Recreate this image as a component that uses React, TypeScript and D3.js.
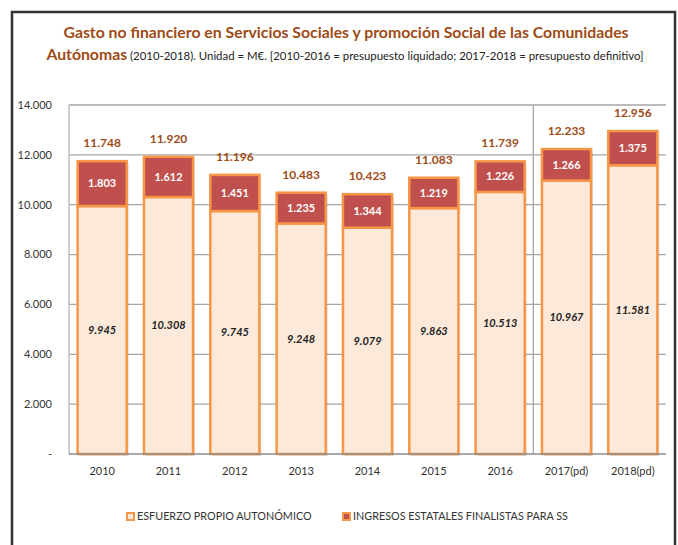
import React, { useEffect, useRef } from "react"
import * as d3 from "d3"

const WIDTH = 678
const HEIGHT = 545
const MARGIN = { top: 105, right: 12, bottom: 91, left: 69 }

const years = ["2010", "2011", "2012", "2013", "2014", "2015", "2016", "2017(pd)", "2018(pd)"]
const esfuerzoPropio = [9945, 10308, 9745, 9248, 9079, 9863, 10513, 10967, 11581]
const ingresosEstatales = [1803, 1612, 1451, 1235, 1344, 1219, 1226, 1266, 1375]
// totales tal como aparecen en el gráfico (redondeo de origen)
const totales = [11748, 11920, 11196, 10483, 10423, 11083, 11739, 12233, 12956]
const yTicks = [0, 2000, 4000, 6000, 8000, 10000, 12000, 14000]
const seriesNames = ["ESFUERZO PROPIO AUTONÓMICO", "INGRESOS ESTATALES FINALISTAS PARA SS"]

const FONT = "Lato, 'Open Sans', sans-serif"
const BROWN = "#9E4B16"
const ORANGE = "#F79646"
const LIGHT = "#FDE9D9"
const RED = "#C0504D"

const locale = d3.formatLocale({ decimal: ",", thousands: ".", grouping: [3], currency: ["", "€"] })
const fmt = locale.format(",")

const App: React.FC = () => {
    const svgRef = useRef<SVGSVGElement | null>(null)

    useEffect(() => {
        if (!svgRef.current) return
        const svg = d3.select(svgRef.current)
        svg.selectAll("*").remove()

        const innerWidth = WIDTH - MARGIN.left - MARGIN.right
        const innerHeight = HEIGHT - MARGIN.top - MARGIN.bottom

        const x = d3.scaleBand<string>().domain(years).range([0, innerWidth]).paddingInner(0.26).paddingOuter(0.13)
        const band = d3.scaleBand<string>().domain(years).range([0, innerWidth])
        const y = d3.scaleLinear().domain([0, 14000]).range([innerHeight, 0])

        // marco
        svg.append("path")
            .attr("d", `M12,${HEIGHT} V12 H675 V${HEIGHT}`)
            .attr("fill", "none")
            .attr("stroke", "#333")
            .attr("stroke-width", 2.5)

        // título
        svg.append("text")
            .attr("x", WIDTH / 2 + 7)
            .attr("y", 38)
            .attr("text-anchor", "middle")
            .attr("font-family", FONT)
            .attr("font-size", 15.8)
            .attr("font-weight", "bold")
            .attr("fill", BROWN)
            .text("Gasto no financiero en Servicios Sociales y promoción Social de las Comunidades")
        const sub = svg.append("text")
            .attr("x", WIDTH / 2 + 6)
            .attr("y", 60)
            .attr("text-anchor", "middle")
            .attr("font-family", FONT)
        sub.append("tspan")
            .attr("font-size", 15.8)
            .attr("font-weight", "bold")
            .attr("fill", BROWN)
            .text("Autónomas")
        sub.append("tspan")
            .attr("font-size", 11.4)
            .attr("fill", "#222")
            .text(" (2010-2018). Unidad = M€. [2010-2016 = presupuesto liquidado; 2017-2018 = presupuesto definitivo]")

        const chart = svg.append("g").attr("transform", `translate(${MARGIN.left},${MARGIN.top})`)

        // rejilla
        chart.selectAll("line.grid")
            .data(yTicks.filter(d => d > 0))
            .enter()
            .append("line")
            .attr("x1", 0)
            .attr("x2", innerWidth)
            .attr("y1", d => y(d))
            .attr("y2", d => y(d))
            .attr("stroke", "#A6A6A6")
            .attr("stroke-width", 1.3)

        // separador 2016 / 2017
        const sepX = band("2017(pd)")!
        chart.append("line")
            .attr("x1", sepX)
            .attr("x2", sepX)
            .attr("y1", 0)
            .attr("y2", innerHeight)
            .attr("stroke", "#A6A6A6")
            .attr("stroke-width", 1.3)

        // eje vertical
        chart.append("line")
            .attr("x1", 0)
            .attr("x2", 0)
            .attr("y1", 0)
            .attr("y2", innerHeight)
            .attr("stroke", "#BFBFBF")
            .attr("stroke-width", 1.5)

        chart.selectAll("text.ytick")
            .data(yTicks)
            .enter()
            .append("text")
            .attr("x", -17)
            .attr("y", d => y(d))
            .attr("dy", "0.35em")
            .attr("text-anchor", "end")
            .attr("font-family", FONT)
            .attr("font-size", 11)
            .attr("fill", "#333")
            .text(d => (d === 0 ? "-" : fmt(d)))

        const rows = years.map((yr, i) => ({
            yr,
            a: esfuerzoPropio[i],
            b: ingresosEstatales[i],
            total: totales[i],
        }))

        const g = chart.selectAll("g.bar").data(rows).enter().append("g")

        // sombra
        g.append("rect")
            .attr("x", d => x(d.yr)! + 2)
            .attr("y", d => y(d.a + d.b) + 2)
            .attr("width", x.bandwidth())
            .attr("height", d => innerHeight - y(d.a + d.b))
            .attr("fill", "#000")
            .attr("opacity", 0.12)

        g.append("rect")
            .attr("x", d => x(d.yr)!)
            .attr("y", d => y(d.a))
            .attr("width", x.bandwidth())
            .attr("height", d => innerHeight - y(d.a))
            .attr("fill", LIGHT)
            .attr("stroke", ORANGE)
            .attr("stroke-width", 2.5)

        g.append("rect")
            .attr("x", d => x(d.yr)!)
            .attr("y", d => y(d.a + d.b))
            .attr("width", x.bandwidth())
            .attr("height", d => y(d.a) - y(d.a + d.b))
            .attr("fill", RED)
            .attr("stroke", ORANGE)
            .attr("stroke-width", 2.5)

        // eje horizontal
        chart.append("line")
            .attr("x1", 0)
            .attr("x2", innerWidth)
            .attr("y1", innerHeight)
            .attr("y2", innerHeight)
            .attr("stroke", "#8C8C8C")
            .attr("stroke-width", 1.3)

        g.append("text")
            .attr("x", d => x(d.yr)! + x.bandwidth() / 2)
            .attr("y", d => (y(d.a) + innerHeight) / 2)
            .attr("dy", "0.35em")
            .attr("text-anchor", "middle")
            .attr("font-family", FONT)
            .attr("font-size", 11)
            .attr("font-weight", "bold")
            .attr("font-style", "italic")
            .attr("fill", "#222")
            .text(d => fmt(d.a))

        g.append("text")
            .attr("x", d => x(d.yr)! + x.bandwidth() / 2)
            .attr("y", d => (y(d.a) + y(d.a + d.b)) / 2)
            .attr("dy", "0.35em")
            .attr("text-anchor", "middle")
            .attr("font-family", FONT)
            .attr("font-size", 11)
            .attr("font-weight", "bold")
            .attr("fill", "#fff")
            .text(d => fmt(d.b))

        g.append("text")
            .attr("x", d => x(d.yr)! + x.bandwidth() / 2)
            .attr("y", d => y(d.a + d.b) - 14)
            .attr("text-anchor", "middle")
            .attr("font-family", FONT)
            .attr("font-size", 12)
            .attr("font-weight", "bold")
            .attr("fill", BROWN)
            .text(d => fmt(d.total))

        chart.selectAll("text.xtick")
            .data(years)
            .enter()
            .append("text")
            .attr("x", d => band(d)! + band.bandwidth() / 2)
            .attr("y", innerHeight + 17)
            .attr("dy", "0.35em")
            .attr("text-anchor", "middle")
            .attr("font-family", FONT)
            .attr("font-size", 11)
            .attr("fill", "#333")
            .text(d => d)

        // leyenda
        const legendX = [126, 342]
        const fills = [LIGHT, RED]
        const legend = svg.selectAll("g.legend")
            .data(seriesNames)
            .enter()
            .append("g")
            .attr("transform", (_, i) => `translate(${legendX[i]},512)`)
        legend.append("rect")
            .attr("x", 1)
            .attr("y", 1)
            .attr("width", 7)
            .attr("height", 7)
            .attr("fill", (_, i) => fills[i])
            .attr("stroke", ORANGE)
            .attr("stroke-width", 2)
        legend.append("text")
            .attr("x", 11)
            .attr("y", 4.5)
            .attr("dy", "0.35em")
            .attr("font-family", FONT)
            .attr("font-size", 10.8)
            .attr("fill", "#333")
            .text(d => d)
    }, [])

    return (
        <svg
            ref={svgRef}
            width={WIDTH}
            height={HEIGHT}
            style={{ position: "absolute", left: 0, top: 0, background: "#fff" }}
        />
    )
}

export default App
